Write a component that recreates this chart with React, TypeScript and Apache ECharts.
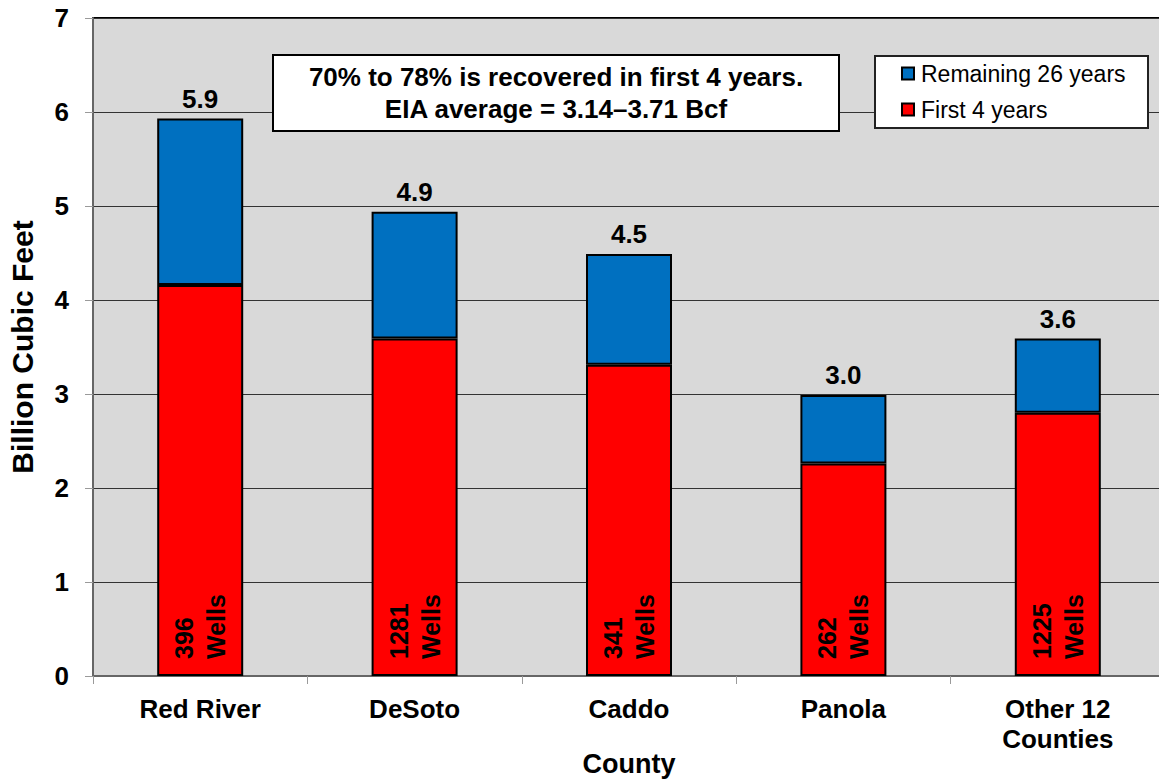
import React, { useEffect, useRef } from "react";
import * as echarts from "echarts";

const counties = ["Red River", "DeSoto", "Caddo", "Panola", "Other 12\nCounties"];
const first4Years = [4.16, 3.59, 3.31, 2.26, 2.8];
const remaining26Years = [1.77, 1.35, 1.18, 0.73, 0.79];
const wellCounts = [396, 1281, 341, 262, 1225];
const yTicks = [0, 1, 2, 3, 4, 5, 6, 7];
const noteLines = ["70% to 78% is recovered in first 4 years.", "EIA average = 3.14\u20133.71 Bcf"];
const seriesNames = ["Remaining 26 years", "First 4 years"];

const FONT = "'Liberation Sans', Arial, Helvetica, sans-serif";

export default function App() {
  const ref = useRef<HTMLDivElement>(null);

  useEffect(() => {
    if (!ref.current) return;
    const chart = echarts.init(ref.current, undefined, { renderer: "svg" });
    const totals = first4Years.map((v, i) => (v + remaining26Years[i]).toFixed(1));

    chart.setOption({
      animation: false,
      backgroundColor: "#ffffff",
      textStyle: { fontFamily: FONT },
      grid: {
        left: 93,
        top: 18,
        height: 658,
        width: 1072,
        containLabel: false,
        outerBoundsMode: "none",
        show: true,
        backgroundColor: "#D9D9D9",
        borderColor: "#000000",
        borderWidth: 2,
      },
      legend: {
        data: [seriesNames[0], seriesNames[1]],
        orient: "vertical",
        left: 901,
        top: 62,
        padding: 0,
        itemGap: 13,
        itemWidth: 12,
        itemHeight: 12,
        icon: "rect",
        z: 20,
        textStyle: { fontFamily: FONT, fontSize: 23, color: "#000", padding: [0, 0, 0, 2] },
      },
      graphic: [
        {
          type: "rect",
          z: 5,
          shape: { x: 273, y: 55, width: 566, height: 76 },
          style: { fill: "#ffffff", stroke: "#000000", lineWidth: 2 },
        },
        {
          type: "text",
          z: 6,
          x: 556,
          y: 93,
          style: {
            text: noteLines.join("\n"),
            fontFamily: FONT,
            fontSize: 26,
            fontWeight: "bold",
            lineHeight: 32,
            fill: "#000",
            align: "center",
            verticalAlign: "middle",
          },
        },
        {
          type: "rect",
          z: 5,
          shape: { x: 875, y: 56, width: 273, height: 72 },
          style: { fill: "#ffffff", stroke: "#222222", lineWidth: 2 },
        },
      ],
      xAxis: {
        type: "category",
        data: counties,
        name: "County",
        nameLocation: "middle",
        nameGap: 74,
        nameMoveOverlap: false,
        nameTextStyle: { fontFamily: FONT, fontSize: 27, fontWeight: "bold", color: "#000" },
        axisLine: { show: true, lineStyle: { color: "#666666", width: 2 } },
        axisTick: { show: true, length: 8, lineStyle: { color: "#9a9a9a", width: 1 } },
        axisLabel: {
          margin: 18,
          fontFamily: FONT,
          fontSize: 26,
          fontWeight: "bold",
          lineHeight: 30,
          color: "#000",
          interval: 0,
        },
      },
      yAxis: {
        type: "value",
        min: yTicks[0],
        max: yTicks[yTicks.length - 1],
        interval: 1,
        name: "Billion Cubic Feet",
        nameLocation: "middle",
        nameGap: 56,
        nameTextStyle: { fontFamily: FONT, fontSize: 30, fontWeight: "bold", color: "#000" },
        axisLine: { show: true, lineStyle: { color: "#666666", width: 2 } },
        axisTick: { show: true, length: 8, lineStyle: { color: "#9a9a9a", width: 1 } },
        axisLabel: {
          margin: 24,
          fontFamily: FONT,
          fontSize: 26,
          fontWeight: "bold",
          color: "#000",
        },
        splitLine: { show: true, lineStyle: { color: "#333333", width: 1 } },
      },
      series: [
        {
          name: seriesNames[1],
          type: "bar",
          stack: "total",
          barWidth: 86,
          data: first4Years,
          itemStyle: { color: "#FF0000", borderColor: "#000000", borderWidth: 2 },
          label: {
            show: true,
            position: "insideBottom",
            rotate: 90,
            align: "left",
            verticalAlign: "middle",
            distance: 17,
            fontFamily: FONT,
            fontSize: 25,
            fontWeight: "bold",
            lineHeight: 32,
            color: "#000",
            formatter: (p: any) => `${wellCounts[p.dataIndex]}\nWells`,
          },
        },
        {
          name: seriesNames[0],
          type: "bar",
          stack: "total",
          barWidth: 86,
          data: remaining26Years,
          itemStyle: { color: "#0070C0", borderColor: "#000000", borderWidth: 2 },
          label: {
            show: true,
            position: "top",
            distance: 7,
            fontFamily: FONT,
            fontSize: 26,
            fontWeight: "bold",
            color: "#000",
            formatter: (p: any) => totals[p.dataIndex],
          },
        },
      ],
    });

    return () => chart.dispose();
  }, []);

  return (
    <div
      ref={ref}
      style={{ position: "absolute", left: 0, top: 0, width: 1159, height: 780 }}
    />
  );
}
